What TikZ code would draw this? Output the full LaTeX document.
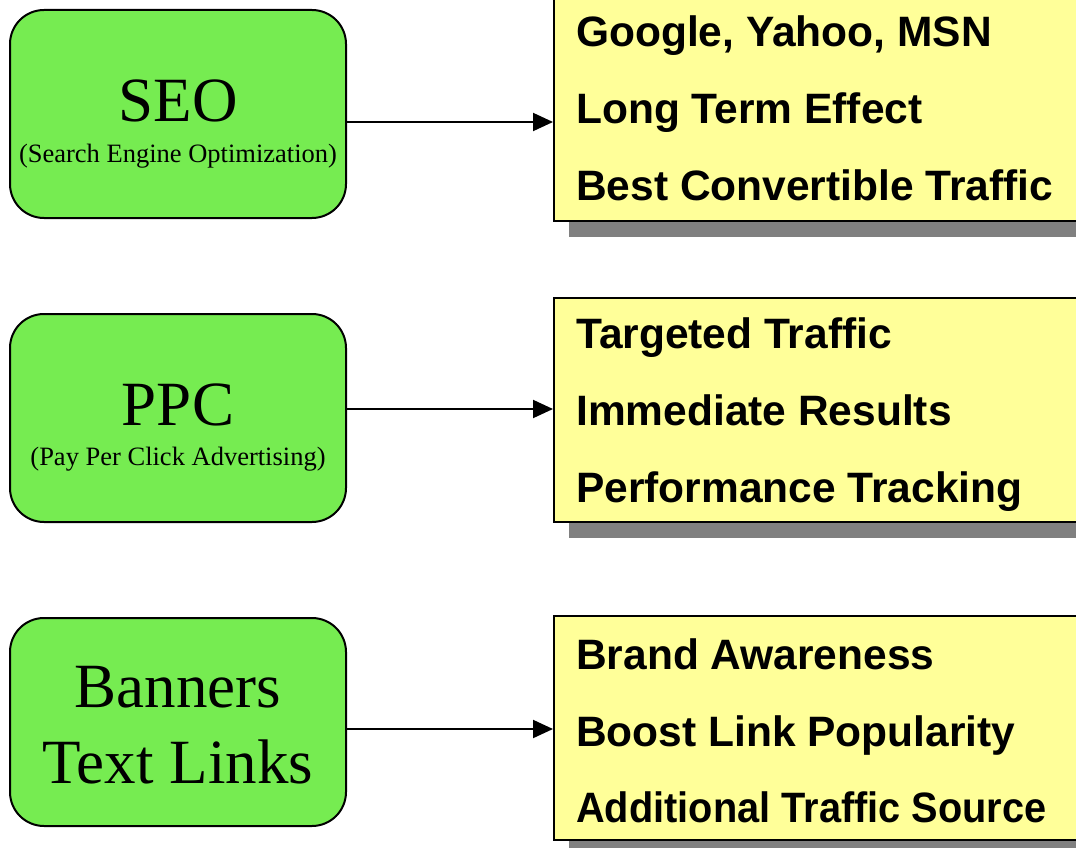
\documentclass[tikz,border=0pt]{standalone}
\usepackage{graphicx}
\usepackage{fontspec}
\setmainfont{Liberation Serif}
\newfontfamily\listfont{Liberation Sans}
\usetikzlibrary{arrows.meta,shadows}
\definecolor{boxgreen}{HTML}{76EC51}
\definecolor{noteyellow}{HTML}{FFFF99}
\begin{document}
\begin{tikzpicture}[x=1pt,y=-1pt,
  method/.style={draw=black, line width=2pt, fill=boxgreen, rounded corners=34pt,
    minimum width=336pt, minimum height=208pt, inner sep=0pt},
  note/.style={draw=black, line width=2pt, fill=noteyellow,
    minimum width=536pt, minimum height=224pt, inner sep=0pt,
    drop shadow={shadow xshift=15pt, shadow yshift=-16pt, fill=black!50, opacity=1}},
  title/.style={anchor=base, inner sep=0pt, font=\fontsize{63}{76}\selectfont},
  subtitle/.style={anchor=base, inner sep=0pt, font=\fontsize{26.5}{30}\selectfont},
  item/.style={anchor=base west, inner sep=0pt, font=\listfont\bfseries\fontsize{42.5}{50}\selectfont},
  link/.style={draw=black, line width=2pt, -{Triangle[length=20pt,width=18pt]}}
]
\useasboundingbox (0,0) rectangle (1076,848);
\clip (0,0) rectangle (1076,848);

% marketing channels
\node[method] (seo) at (178,114) {};
\node[method] (ppc) at (178,418) {};
\node[method] (ban) at (178,722) {};

\node[title] (seoT) at (178,122) {SEO};
\node[subtitle] (seoS) at (178,162) {(Search Engine Optimization)};
\node[title] (ppcT) at (178,425) {PPC};
\node[subtitle] (ppcS) at (178,465) {(Pay Per Click Advertising)};
\node[title] (banT) at (178,707) {Banners};
\node[title] (banS) at (178,783) {Text Links};

% benefit notes
\node[note] (seoN) at (822,109) {};
\node[note] (ppcN) at (822,410) {};
\node[note] (banN) at (822,728) {};

\node[item] (s1) at (576,47)  {Google, Yahoo, MSN};
\node[item] (s2) at (576,124) {Long Term Effect};
\node[item] (s3) at (576,200) {Best Convertible Traffic};
\node[item] (p1) at (576,348) {Targeted Traffic};
\node[item] (p2) at (576,425) {Immediate Results};
\node[item] (p3) at (576,502) {Performance Tracking};
\node[item] (b1) at (576,669) {Brand Awareness};
\node[item] (b2) at (576,746) {Boost Link Popularity};
\node[item] (b3) at (576,822) {\scalebox{0.935}[1]{Additional Traffic Source}};

% connectors
\draw[link] ([yshift=-8pt]seo.east) -- ([yshift=-8pt]seo.east -| seoN.west);
\draw[link] ([yshift=9pt]ppc.east) -- ([yshift=9pt]ppc.east -| ppcN.west);
\draw[link] ([yshift=-7pt]ban.east) -- ([yshift=-7pt]ban.east -| banN.west);
\end{tikzpicture}
\end{document}
